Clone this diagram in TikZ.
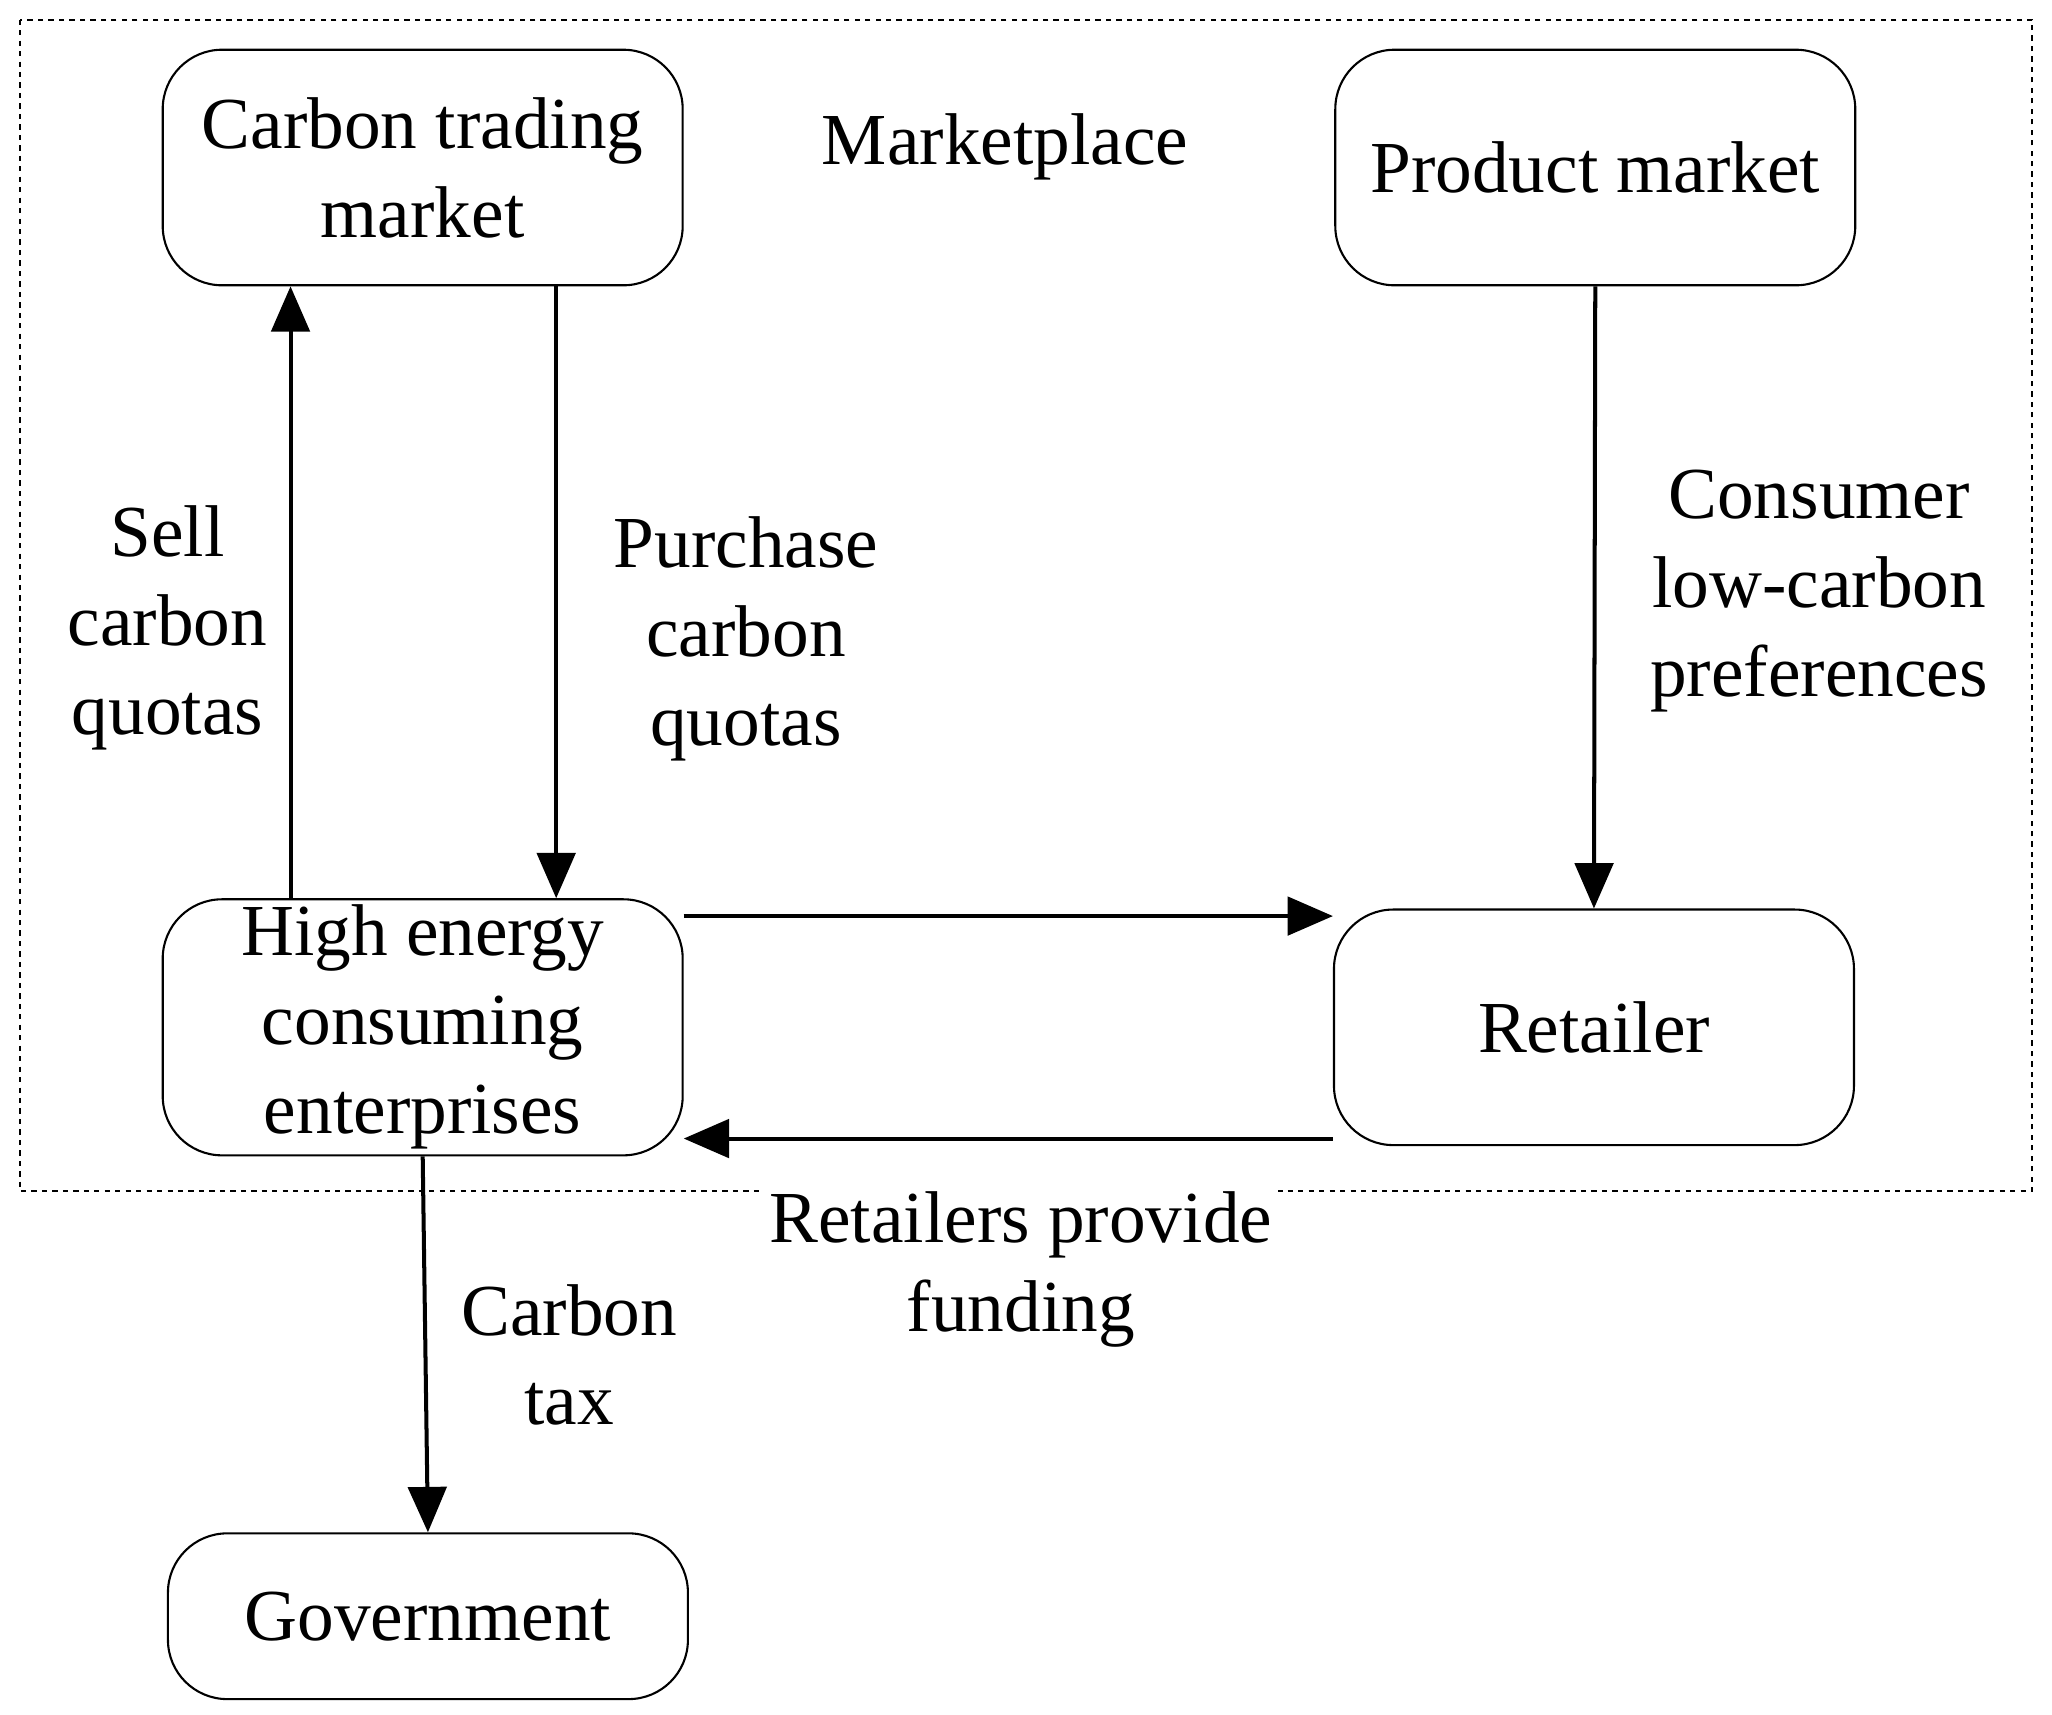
\documentclass[tikz,border=0pt]{standalone}
\usepackage{fontspec}
\setmainfont{Liberation Serif}
\usetikzlibrary{arrows.meta}
\tikzset{every picture/.style={line width=0.75pt}}
\tikzset{
  box/.style={draw, rounded corners=34pt, minimum width=298pt, minimum height=135pt, align=center, line width=1.2pt},
  lbl/.style={align=center},
  flow/.style={line width=2.3pt, -{Triangle[length=26pt,width=22pt]}}
}

\begin{document}
\begin{tikzpicture}[x=0.75pt,y=0.75pt,yscale=-1,xscale=1,font=\fontsize{42}{51}\selectfont]
\useasboundingbox (0,0) rectangle (1568,1310);

% Dashed frame
\draw [dashed, line width=1.2pt] (15,15) rectangle (1553,910);

% Boxes
\node [box] (ctm) at (323,128) {Carbon trading\\market};
\node [box] (pm) at (1219,128) {Product market};
\node [box] (hec) at (323,785) {High energy\\consuming\\enterprises};
\node [box] (ret) at (1218,785) {Retailer};
\node [box, minimum height=95pt] (gov) at (327,1235) {Government};

% Text Node
\node [lbl] (mkt) at (768,112) {Marketplace};

% Arrows
\draw [flow] (hec.north -| 222,0) -- (ctm.south -| 222,0);
\draw [flow] (ctm.south -| 425,0) -- (hec.north -| 425,0);
\draw [flow] (pm.south) -- (ret.north);
\draw [flow] (hec.east |- 0,700) -- (ret.west |- 0,700);
\draw [flow] (ret.west |- 0,870) -- (hec.east |- 0,870);
\draw [flow] (hec.south) -- (gov.north);

% Labels
\node [lbl] (sell) at (128,480) {Sell\\carbon\\quotas};
\node [lbl] (buy) at (570,488) {Purchase\\carbon\\quotas};
\node [lbl] (pref) at (1390,452) {Consumer\\low-carbon\\preferences};
\node [lbl, fill=white, inner ysep=2pt] (fund) at (780,970) {Retailers provide\\funding};
\node [lbl] (tax) at (435,1035) {Carbon\\tax};

\end{tikzpicture}
\end{document}
